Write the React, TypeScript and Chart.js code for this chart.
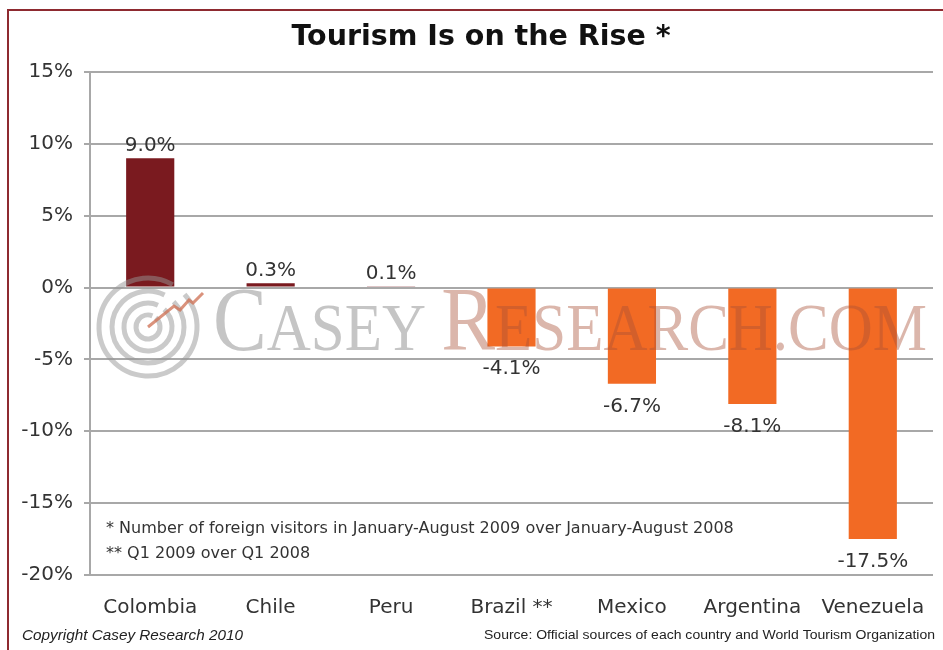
import React, { useEffect, useRef } from "react";
import { Chart, registerables } from "chart.js";

Chart.register(...registerables);

const categories = ["Colombia", "Chile", "Peru", "Brazil **", "Mexico", "Argentina", "Venezuela"];
const values = [9.0, 0.3, 0.1, -4.1, -6.7, -8.1, -17.5];
const barColors = ["#7a1a1f", "#7a1a1f", "#7a1a1f", "#f26a24", "#f26a24", "#f26a24", "#f26a24"];
const yMin = -20;
const yMax = 15;
const yStep = 5;
const titleText = "Tourism Is on the Rise *";
const footnotes = [
  "* Number of foreign visitors in January-August 2009 over January-August 2008",
  "** Q1 2009 over Q1 2008",
];
const copyrightText = "Copyright Casey Research 2010";
const sourceText = "Source: Official sources of each country and World Tourism Organization";

const SANS = "'DejaVu Sans', Verdana, sans-serif";

function fitText(ctx: CanvasRenderingContext2D, text: string, x: number, y: number, width: number, align: "left" | "right") {
  const w = ctx.measureText(text).width;
  const s = width / w;
  ctx.save();
  ctx.translate(x, y);
  ctx.scale(s, 1);
  ctx.textAlign = "left";
  ctx.fillText(text, align === "left" ? 0 : -w, 0);
  ctx.restore();
}

const decor = {
  id: "decor",
  beforeDraw(chart: any) {
    const ctx = chart.ctx as CanvasRenderingContext2D;
    ctx.save();
    ctx.fillStyle = "#ffffff";
    ctx.fillRect(0, 0, chart.width, chart.height);
    ctx.strokeStyle = "#8e2a30";
    ctx.lineWidth = 2;
    ctx.beginPath();
    ctx.moveTo(8, chart.height);
    ctx.lineTo(8, 10);
    ctx.lineTo(chart.width, 10);
    ctx.stroke();
    ctx.restore();
  },
  afterDatasetsDraw(chart: any) {
    const ctx = chart.ctx as CanvasRenderingContext2D;
    // watermark logo
    ctx.save();
    const cx = 148, cy = 327;
    ctx.strokeStyle = "rgba(150,150,150,0.5)";
    ctx.lineWidth = 5;
    [12, 24, 36, 49].forEach((r, i) => {
      ctx.beginPath();
      ctx.arc(cx, cy, r, -Math.PI * 0.28 + i * 0.05, Math.PI * 1.62 + i * 0.05);
      ctx.stroke();
    });
    ctx.strokeStyle = "rgba(205,110,80,0.75)";
    ctx.lineWidth = 3;
    ctx.beginPath();
    ctx.moveTo(cx, cy);
    ctx.lineTo(174, 306);
    ctx.lineTo(180, 310);
    ctx.lineTo(189, 300);
    ctx.lineTo(193, 303);
    ctx.lineTo(203, 293);
    ctx.stroke();

    // watermark text
    const parts: [string, number, string][] = [
      ["C", 90, "rgba(140,140,140,0.5)"],
      ["ASEY ", 68, "rgba(140,140,140,0.5)"],
      ["R", 90, "rgba(170,80,55,0.42)"],
      ["ESEARCH.COM", 68, "rgba(170,80,55,0.42)"],
    ];
    let total = 0;
    const widths: number[] = [];
    parts.forEach(([t, s]) => {
      ctx.font = `${s}px 'Liberation Serif', 'DejaVu Serif', serif`;
      const w = ctx.measureText(t).width;
      widths.push(w);
      total += w;
    });
    const sx = (927 - 213) / total;
    ctx.translate(213, 350);
    ctx.scale(sx, 1);
    ctx.textBaseline = "alphabetic";
    let xx = 0;
    parts.forEach(([t, s, c], i) => {
      ctx.font = `${s}px 'Liberation Serif', 'DejaVu Serif', serif`;
      ctx.fillStyle = c;
      ctx.fillText(t, xx, 0);
      xx += widths[i];
    });
    ctx.restore();

    // data labels
    const meta = chart.getDatasetMeta(0);
    ctx.save();
    ctx.font = `20px ${SANS}`;
    ctx.fillStyle = "#333333";
    ctx.textAlign = "center";
    ctx.textBaseline = "alphabetic";
    meta.data.forEach((el: any, i: number) => {
      const v = values[i];
      const label = v.toFixed(1) + "%";
      const y = v >= 0 ? el.y - 7 : el.y + 28;
      ctx.fillText(label, el.x, y);
    });
    ctx.restore();
  },
  afterDraw(chart: any) {
    const ctx = chart.ctx as CanvasRenderingContext2D;
    ctx.save();
    ctx.fillStyle = "#111111";
    ctx.font = `bold 28.5px ${SANS}`;
    ctx.textAlign = "center";
    ctx.textBaseline = "middle";
    ctx.fillText(titleText, 481, 38);

    ctx.font = `16px ${SANS}`;
    ctx.fillStyle = "#333333";
    ctx.textAlign = "left";
    ctx.fillText(footnotes[0], 106, 529);
    ctx.fillText(footnotes[1], 106, 554);

    ctx.fillStyle = "#222222";
    ctx.font = `italic 14px 'Liberation Sans', Arial, sans-serif`;
    fitText(ctx, copyrightText, 22, 636, 221, "left");
    ctx.font = `12px 'Liberation Sans', Arial, sans-serif`;
    fitText(ctx, sourceText, 935, 636, 451, "right");
    ctx.restore();
  },
};

export default function App() {
  const ref = useRef<HTMLCanvasElement>(null);
  useEffect(() => {
    if (!ref.current) return;
    const chart = new Chart(ref.current, {
      type: "bar",
      data: {
        labels: categories,
        datasets: [
          {
            data: values,
            backgroundColor: barColors,
            borderWidth: 0,
            barPercentage: 0.4,
            categoryPercentage: 1,
          },
        ],
      },
      options: {
        animation: false,
        responsive: true,
        maintainAspectRatio: false,
        layout: { padding: { top: 72, left: 0, right: 10, bottom: 0 } },
        plugins: {
          legend: { display: false },
          tooltip: { enabled: false },
          title: { display: false },
        },
        scales: {
          x: {
            grid: { display: false },
            border: { display: false },
            ticks: {
              color: "#333333",
              font: { family: SANS, size: 20 },
              padding: 13,
              maxRotation: 0,
              autoSkip: false,
            },
            afterFit: (s: any) => {
              s.height = 75;
            },
          },
          y: {
            min: yMin,
            max: yMax,
            grid: { color: "#a8a8a8", lineWidth: 2, tickLength: 6 },
            border: { display: true, color: "#a8a8a8", width: 2 },
            ticks: {
              stepSize: yStep,
              color: "#333333",
              font: { family: SANS, size: 20 },
              padding: 11,
              callback: (v: any) => `${v}%`,
            },
            afterFit: (s: any) => {
              s.width = 90;
            },
          },
        },
      },
      plugins: [decor],
    });
    return () => chart.destroy();
  }, []);
  return (
    <div style={{ position: "fixed", left: 0, top: 0, width: 943, height: 650, background: "#fff" }}>
      <canvas ref={ref} />
    </div>
  );
}
